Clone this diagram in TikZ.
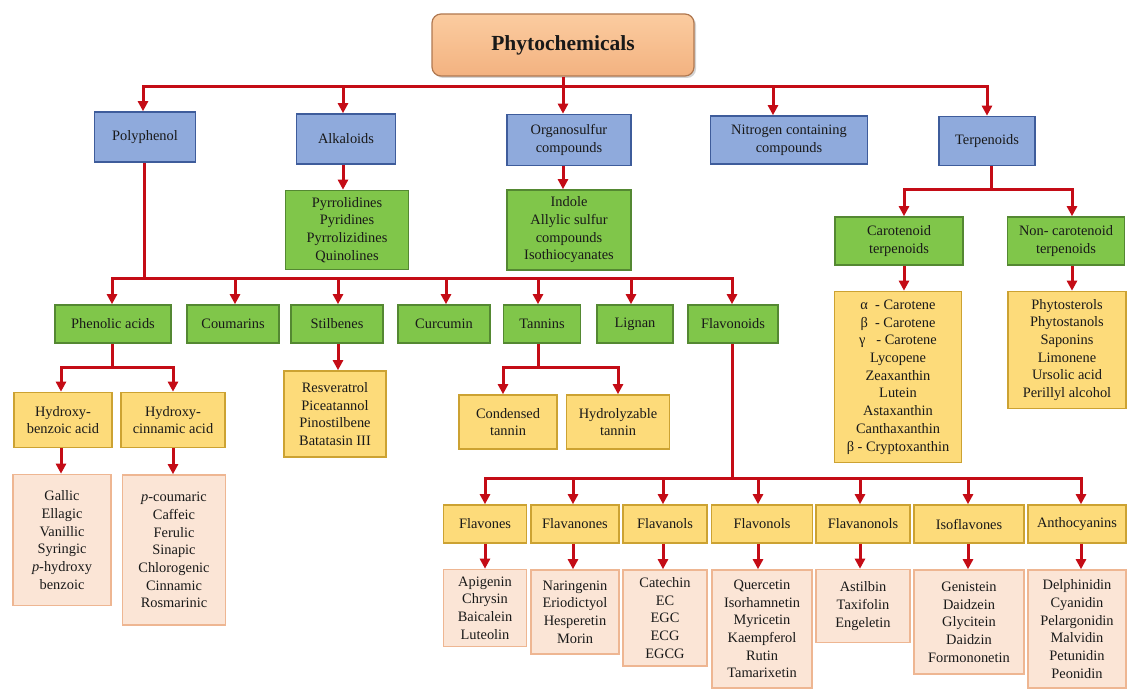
\documentclass[tikz,border=0pt]{standalone}
\usepackage{fontspec}
\setmainfont{Liberation Serif}
\usepackage{xcolor}
\definecolor{linkred}{RGB}{196,12,22}
\definecolor{bluefill}{RGB}{143,170,220}
\definecolor{blueline}{RGB}{62,92,155}
\definecolor{greenfill}{RGB}{128,198,74}
\definecolor{greenline}{RGB}{84,136,50}
\definecolor{yellowfill}{RGB}{253,219,122}
\definecolor{yellowline}{RGB}{204,162,50}
\definecolor{pinkfill}{RGB}{251,229,214}
\definecolor{pinkline}{RGB}{238,182,146}
\definecolor{titletop}{RGB}{251,204,160}
\definecolor{titlebot}{RGB}{243,178,128}
\definecolor{titleline}{RGB}{176,120,80}
\usetikzlibrary{arrows.meta}
\usetikzlibrary{shadows}
\tikzset{
  every node/.style={
    text=black!90, align=center, inner sep=2pt,
    font=\fontsize{14.4}{17.7}\selectfont
  },
  box/.style={rectangle, line width=1.6pt},
  bluebox/.style={box, fill=bluefill, draw=blueline},
  greenbox/.style={box, fill=greenfill, draw=greenline},
  yellowbox/.style={box, fill=yellowfill, draw=yellowline},
  pinkbox/.style={box, fill=pinkfill, draw=pinkline},
  titlebox/.style={
    rounded corners=9pt, top color=titletop, bottom color=titlebot,
    draw=titleline, line width=1.2pt,
    drop shadow={opacity=0.35, shadow xshift=2pt, shadow yshift=-2pt}
  },
  link/.style={draw=linkred, line width=3pt},
  >={Triangle[length=10pt,width=10pt]}
}

\begin{document}
\begin{tikzpicture}[x=1pt,y=-1pt]
    %\draw[gray, very thin] (0,0) grid[step=50] (1127,690);
    \useasboundingbox (0,0) rectangle (1127,690);

    % top of the tree
    \node[titlebox, minimum width=262pt, minimum height=62pt,
      font=\fontsize{21.5}{24}\selectfont\bfseries] (phyto) at (563,45) {Phytochemicals};

    \node[bluebox, minimum width=101pt, minimum height=50pt] (poly) at (145,137) {Polyphenol};
    \node[bluebox, minimum width=99pt, minimum height=50pt] (alk) at (346,139) {Alkaloids};
    \node[bluebox, minimum width=124pt, minimum height=51pt] (orgs) at (569,140) {Organosulfur\\compounds};
    \node[bluebox, minimum width=157pt, minimum height=48pt] (nitro) at (789,140) {Nitrogen containing\\compounds};
    \node[bluebox, minimum width=96pt, minimum height=49pt] (terp) at (987,141) {Terpenoids};

    \node[greenbox, minimum width=123pt, minimum height=79pt] (alklist) at (347,230)
      {Pyrrolidines\\Pyridines\\Pyrrolizidines\\Quinolines};
    \node[greenbox, minimum width=124pt, minimum height=80pt] (orgslist) at (569,230)
      {Indole\\Allylic sulfur\\compounds\\Isothiocyanates};

    % terpenoids
    \node[greenbox, minimum width=128pt, minimum height=48pt] (carot) at (899,241) {Carotenoid\\terpenoids};
    \node[greenbox, minimum width=117pt, minimum height=48pt] (noncarot) at (1066,241) {Non- carotenoid\\terpenoids};
    \node[yellowbox, minimum width=127pt, minimum height=171pt] (carotlist) at (898,377)
      {α\ \ - Carotene\\β\ \ - Carotene\\γ\ \ \ - Carotene\\Lycopene\\Zeaxanthin\\Lutein\\Astaxanthin\\Canthaxanthin\\β - Cryptoxanthin};
    \node[yellowbox, minimum width=118pt, minimum height=117pt] (noncarotlist) at (1067,350)
      {Phytosterols\\Phytostanols\\Saponins\\Limonene\\Ursolic acid\\Perillyl alcohol};

    % polyphenol groups
    \node[greenbox, minimum width=116pt, minimum height=38pt] (phen) at (113,324) {Phenolic acids};
    \node[greenbox, minimum width=92pt, minimum height=38pt] (coum) at (233,324) {Coumarins};
    \node[greenbox, minimum width=92pt, minimum height=38pt] (stil) at (337,324) {Stilbenes};
    \node[greenbox, minimum width=92pt, minimum height=38pt] (curc) at (444,324) {Curcumin};
    \node[greenbox, minimum width=77pt, minimum height=38pt] (tann) at (542,324) {Tannins};
    \node[greenbox, minimum width=76pt, minimum height=38pt] (lign) at (635,324) {Lignan};
    \node[greenbox, minimum width=90pt, minimum height=38pt] (flav) at (733,324) {Flavonoids};

    \node[yellowbox, minimum width=98pt, minimum height=55pt] (hba) at (63,420) {Hydroxy-\\benzoic acid};
    \node[yellowbox, minimum width=104pt, minimum height=55pt] (hca) at (173,420) {Hydroxy-\\cinnamic acid};
    \node[pinkbox, minimum width=98pt, minimum height=131pt] (hbalist) at (62,540)
      {Gallic\\Ellagic\\Vanillic\\Syringic\\\textit{p}-hydroxy\\benzoic};
    \node[pinkbox, minimum width=103pt, minimum height=150pt] (hcalist) at (174,550)
      {\textit{p}-coumaric\\Caffeic\\Ferulic\\Sinapic\\Chlorogenic\\Cinnamic\\Rosmarinic};
    \node[yellowbox, minimum width=102pt, minimum height=86pt] (stillist) at (335,414)
      {Resveratrol\\Piceatannol\\Pinostilbene\\Batatasin III};
    \node[yellowbox, minimum width=98pt, minimum height=54pt] (cond) at (508,422) {Condensed\\tannin};
    \node[yellowbox, minimum width=103pt, minimum height=54pt] (hydr) at (618,422) {Hydrolyzable\\tannin};

    % flavonoid classes
    \node[yellowbox, minimum width=83pt, minimum height=38pt] (flavones) at (485,524) {Flavones};
    \node[yellowbox, minimum width=88pt, minimum height=38pt] (flavanones) at (575,524) {Flavanones};
    \node[yellowbox, minimum width=84pt, minimum height=38pt] (flavanols) at (665,524) {Flavanols};
    \node[yellowbox, minimum width=101pt, minimum height=38pt] (flavonols) at (762,524) {Flavonols};
    \node[yellowbox, minimum width=94pt, minimum height=38pt] (flavanonols) at (863,524) {Flavanonols};
    \node[yellowbox, minimum width=110pt, minimum height=38pt] (isofl) at (969,524) {Isoflavones};
    \node[yellowbox, minimum width=98pt, minimum height=38pt] (antho) at (1077,524) {Anthocyanins};

    \node[pinkbox, minimum width=83pt, minimum height=77pt] (flavoneslist) at (485,608)
      {Apigenin\\Chrysin\\Baicalein\\Luteolin};
    \node[pinkbox, minimum width=88pt, minimum height=84pt] (flavanoneslist) at (575,612)
      {Naringenin\\Eriodictyol\\Hesperetin\\Morin};
    \node[pinkbox, minimum width=84pt, minimum height=96pt] (flavanolslist) at (665,618)
      {Catechin\\EC\\EGC\\ECG\\EGCG};
    \node[pinkbox, minimum width=100pt, minimum height=118pt] (flavonolslist) at (762,629)
      {Quercetin\\Isorhamnetin\\Myricetin\\Kaempferol\\Rutin\\Tamarixetin};
    \node[pinkbox, minimum width=94pt, minimum height=73pt] (flavanonolslist) at (863,606)
      {Astilbin\\Taxifolin\\Engeletin};
    \node[pinkbox, minimum width=110pt, minimum height=104pt] (isofllist) at (969,622)
      {Genistein\\Daidzein\\Glycitein\\Daidzin\\Formononetin};
    \node[pinkbox, minimum width=98pt, minimum height=118pt] (antholist) at (1077,629)
      {Delphinidin\\Cyanidin\\Pelargonidin\\Malvidin\\Petunidin\\Peonidin};

    % connectors
    \coordinate (topbus) at (563,87);
    \draw[link] (phyto.south) -- (topbus);
    \draw[link,->] (topbus) -| ([xshift=-2pt]poly.north);
    \draw[link,->] (topbus) -| ([xshift=-3pt]alk.north);
    \draw[link,->] (topbus) -- ([xshift=-6pt]orgs.north);
    \draw[link,->] (topbus) -| ([xshift=-16pt]nitro.north);
    \draw[link,->] (topbus) -| (terp.north);

    \draw[link,->] ([xshift=-3pt]alk.south) -- ([xshift=-4pt]alklist.north);
    \draw[link,->] ([xshift=-6pt]orgs.south) -- ([xshift=-6pt]orgslist.north);

    \coordinate (terpbus) at (991,189);
    \draw[link] ([xshift=4pt]terp.south) -- (terpbus);
    \draw[link,->] (terpbus) -| ([xshift=5pt]carot.north);
    \draw[link,->] (terpbus) -| ([xshift=6pt]noncarot.north);
    \draw[link,->] ([xshift=5pt]carot.south) -- ([xshift=6pt]carotlist.north);
    \draw[link,->] ([xshift=6pt]noncarot.south) -- ([xshift=5pt]noncarotlist.north);

    \coordinate (polybus) at (144,278);
    \draw[link] ([xshift=-1pt]poly.south) -- (polybus);
    \draw[link,->] (polybus) -| ([xshift=-1pt]phen.north);
    \draw[link,->] (polybus) -| ([xshift=2pt]coum.north);
    \draw[link,->] (polybus) -| ([xshift=1pt]stil.north);
    \draw[link,->] (polybus) -| ([xshift=2pt]curc.north);
    \draw[link,->] (polybus) -| ([xshift=-4pt]tann.north);
    \draw[link,->] (polybus) -| ([xshift=-4pt]lign.north);
    \draw[link,->] (polybus) -| ([xshift=-1pt]flav.north);

    \coordinate (phenbus) at (112,367);
    \draw[link] ([xshift=-1pt]phen.south) -- (phenbus);
    \draw[link,->] (phenbus) -| ([xshift=-2pt]hba.north);
    \draw[link,->] (phenbus) -| (hca.north);
    \draw[link,->] ([xshift=-2pt]hba.south) -- ([xshift=-1pt]hbalist.north);
    \draw[link,->] (hca.south) -- ([xshift=-1pt]hcalist.north);
    \draw[link,->] ([xshift=1pt]stil.south) -- ([xshift=3pt]stillist.north);

    \coordinate (tannbus) at (538,367);
    \draw[link] ([xshift=-4pt]tann.south) -- (tannbus);
    \draw[link,->] (tannbus) -| ([xshift=-5pt]cond.north);
    \draw[link,->] (tannbus) -| (hydr.north);

    \coordinate (flavbus) at (732,478);
    \draw[link] ([xshift=-1pt]flav.south) -- (flavbus);
    \draw[link,->] (flavbus) -| (flavones.north);
    \draw[link,->] (flavbus) -| ([xshift=-2pt]flavanones.north);
    \draw[link,->] (flavbus) -| ([xshift=-2pt]flavanols.north);
    \draw[link,->] (flavbus) -| ([xshift=-4pt]flavonols.north);
    \draw[link,->] (flavbus) -| ([xshift=-3pt]flavanonols.north);
    \draw[link,->] (flavbus) -| ([xshift=-1pt]isofl.north);
    \draw[link,->] (flavbus) -| ([xshift=4pt]antho.north);

    \draw[link,->] (flavones.south) -- (flavoneslist.north);
    \draw[link,->] ([xshift=-2pt]flavanones.south) -- ([xshift=-2pt]flavanoneslist.north);
    \draw[link,->] ([xshift=-2pt]flavanols.south) -- ([xshift=-2pt]flavanolslist.north);
    \draw[link,->] ([xshift=-4pt]flavonols.south) -- ([xshift=-4pt]flavonolslist.north);
    \draw[link,->] ([xshift=-3pt]flavanonols.south) -- ([xshift=-3pt]flavanonolslist.north);
    \draw[link,->] ([xshift=-1pt]isofl.south) -- ([xshift=-1pt]isofllist.north);
    \draw[link,->] ([xshift=4pt]antho.south) -- ([xshift=4pt]antholist.north);
\end{tikzpicture}
\end{document}
